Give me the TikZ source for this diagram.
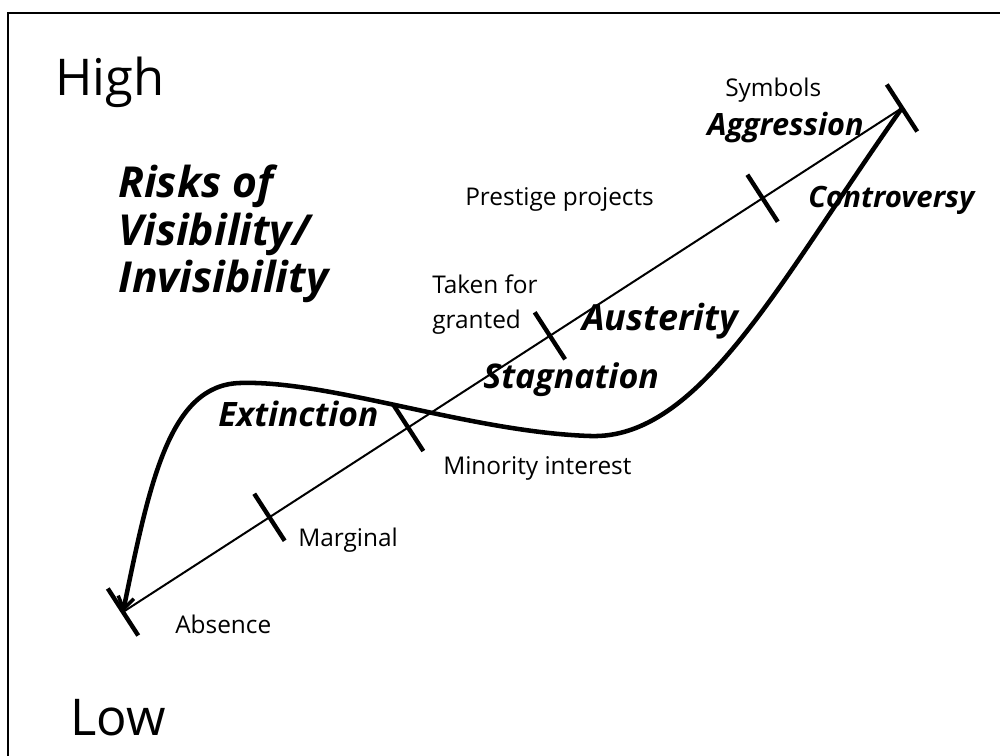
\documentclass[tikz,border=0pt]{standalone}
\usepackage{fontspec}
\setmainfont{Open Sans}
\usetikzlibrary{calc,arrows.meta}
\begin{document}
\begin{tikzpicture}[x=0.75pt,y=-0.75pt,
  lbl/.style={inner sep=0pt,anchor=base west,font=\fontsize{18.3}{22}\selectfont},
  big/.style={inner sep=0pt,anchor=base west,font=\fontsize{38}{44}\selectfont},
  risk/.style={inner sep=0pt,anchor=base west,font=\fontsize{#1}{29}\selectfont\bfseries\itshape},
  risk/.default=24,
  title/.style={inner sep=0pt,anchor=base west,align=left,font=\fontsize{32}{35}\selectfont\bfseries\itshape},
  axisline/.style={line width=1.5pt},
  tickmark/.style={line width=3.3pt},
  curveline/.style={line width=3.4pt,line join=round},
  frame/.style={line width=1.9pt}]
\useasboundingbox (0,0) rectangle (1000,756);
\draw[frame] (8,756) -- (8,13) -- (1000,13);

\coordinate (bl) at (123,612);
\coordinate (tr) at (902,108);
\coordinate (trough) at (590,436);
\coordinate (hump) at (240,383);
\draw[axisline] (bl) -- (tr);
\path (bl) -- (tr)
  coordinate[pos=0.188] (t1)
  coordinate[pos=0.366] (t2)
  coordinate[pos=0.548] (t3)
  coordinate[pos=0.821] (t4);
\foreach \t in {bl,t1,t2,t3,t4}{
  \draw[tickmark] ($(\t)!21pt!90:(tr)$) -- ($(\t)!21pt!-90:(tr)$);
}
\draw[tickmark] ($(tr)!21pt!90:(bl)$) -- ($(tr)!21pt!-90:(bl)$);

\draw[curveline,-{Straight Barb[length=9pt,width=12pt,line width=2.6pt]}]
  (tr) .. controls (780,280) and (700,440) .. (trough)
       .. controls (470,432) and (330,380) .. (hump)
       .. controls (170,385) and (150,480) .. (bl);

\node[big] (high) at (55,96) {High};
\node[big] (low) at (70,735) {Low};
\node[title] (r1) at (118,198) {Risks of};
\node[title] (r2) at (118,246) {Visibility/};
\node[title] (r3) at (118,292) {Invisibility};
\node[lbl] (sym) at (725,97) {Symbols};
\node[risk=23] (agg) at (707,136) {Aggression};
\node[lbl] (pres) at (465,206) {Prestige projects};
\node[risk=22] (cont) at (808,208) {Controversy};
\node[lbl] (tak) at (432,293) {Taken for};
\node[lbl] (gra) at (432,328) {granted};
\node[risk=27] (aus) at (582,330) {Austerity};
\node[risk=25.5] (sta) at (483,388) {Stagnation};
\node[risk=25.2] (ext) at (218,426) {Extinction};
\node[lbl] (min) at (443,474) {Minority interest};
\node[lbl] (mar) at (298,546) {Marginal};
\node[lbl] (abs) at (175,633) {Absence};
\end{tikzpicture}
\end{document}
